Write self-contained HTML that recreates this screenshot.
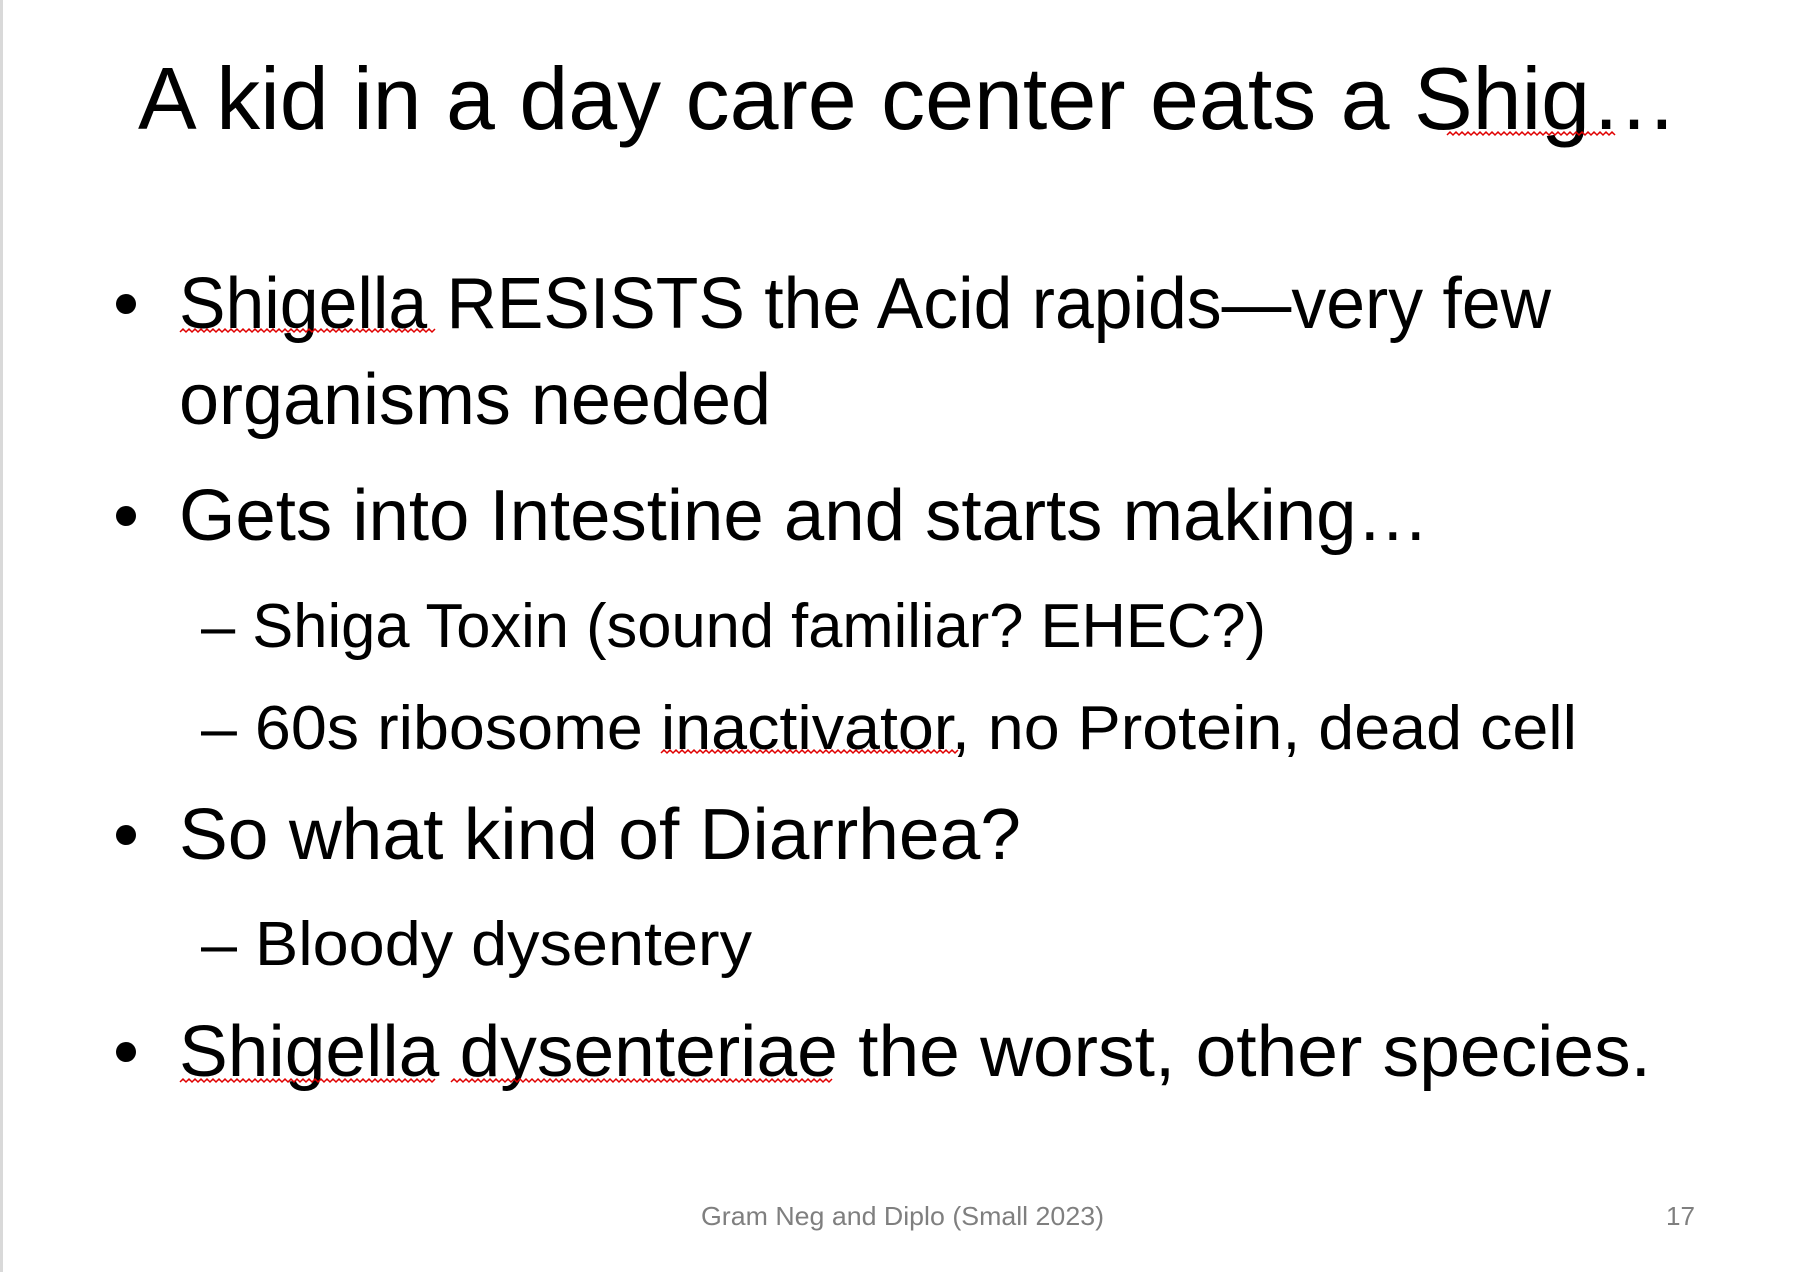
<!DOCTYPE html>
<html><head><meta charset="utf-8"><style>
html,body{margin:0;padding:0;background:#fff;}
svg{display:block;}
text{font-family:"Liberation Sans",sans-serif;fill:#000;}
</style></head><body>
<svg id="s" width="1800" height="1272" viewBox="0 0 1800 1272">
<rect x="0" y="0" width="1800" height="1272" fill="#fff"/>
<rect x="0" y="0" width="3" height="1272" fill="#d9d9d9"/>
<text x="138" y="129" font-size="88" textLength="1540" lengthAdjust="spacingAndGlyphs">A kid in a day care center eats a Shig…</text>
<g font-size="72">
<circle cx="126" cy="304" r="10"/>
<text x="179" y="328" textLength="1372" lengthAdjust="spacingAndGlyphs">Shigella RESISTS the Acid rapids—very few</text>
<text x="179" y="424" textLength="592" lengthAdjust="spacingAndGlyphs">organisms needed</text>
<circle cx="126" cy="516" r="10"/>
<text x="179" y="540" textLength="1250" lengthAdjust="spacingAndGlyphs">Gets into Intestine and starts making…</text>
<circle cx="126" cy="835" r="10"/>
<text x="179" y="859" textLength="842" lengthAdjust="spacingAndGlyphs">So what kind of Diarrhea?</text>
<circle cx="126" cy="1052" r="10"/>
<text x="179" y="1076" textLength="1472" lengthAdjust="spacingAndGlyphs">Shigella dysenteriae the worst, other species.</text>
</g>
<g font-size="62">
<text x="201" y="647" textLength="1065" lengthAdjust="spacingAndGlyphs">– Shiga Toxin (sound familiar? EHEC?)</text>
<text x="201" y="749" textLength="1376" lengthAdjust="spacingAndGlyphs">– 60s ribosome inactivator, no Protein, dead cell</text>
<text x="201" y="965" textLength="551" lengthAdjust="spacingAndGlyphs">– Bloody dysentery</text>
</g>
<text x="701" y="1225" font-size="26" style="fill:#7f7f7f" textLength="403" lengthAdjust="spacingAndGlyphs">Gram Neg and Diplo (Small 2023)</text>
<text x="1666" y="1225" font-size="26" style="fill:#7f7f7f" textLength="29" lengthAdjust="spacingAndGlyphs">17</text>
<g id="sq" fill="none" stroke="#e00000" stroke-width="1.5"></g>
</svg>
<script>
const squiggles=[[1447,1615,135],[180,436,332],[661,960,753],[180,436,1082],[451,834,1082]];
const g=document.getElementById('sq');
squiggles.forEach(function(s){
  let d='M'+s[0]+' '+s[2];
  let up=true;
  for(let x=s[0]+3;x<=s[1];x+=3){d+=' L'+x+' '+(up?s[2]-3:s[2]);up=!up;}
  const p=document.createElementNS('http://www.w3.org/2000/svg','path');
  p.setAttribute('d',d);
  
  
  g.appendChild(p);
});
</script>
</body></html>
